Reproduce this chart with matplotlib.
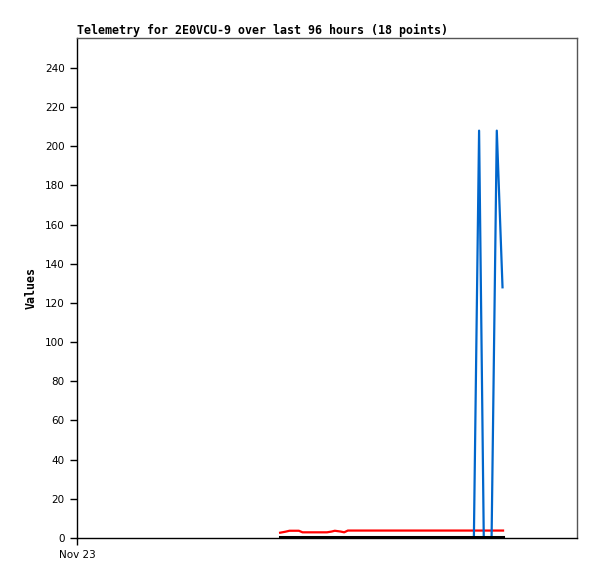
import matplotlib
matplotlib.use("Agg")
import matplotlib.pyplot as plt

# hours since Nov 23 00:00
red_hours = [39.0, 40.0, 40.8, 42.6, 43.3, 48.0, 48.9, 49.5, 50.6, 51.3, 52.0, 55.0, 60.0, 65.0, 70.0, 75.0, 79.0, 81.8]
red_vals = [2.7, 3.2, 3.7, 3.7, 2.9, 2.9, 3.3, 3.7, 3.3, 2.9, 3.8, 3.8, 3.8, 3.8, 3.8, 3.8, 3.8, 3.8]

blue_hours = [39.0, 76.2, 77.2, 78.1, 79.6, 80.6, 81.7]
blue_vals = [0, 0, 208, 0, 0, 208, 128]

black_hours = [39.0, 81.8]
black_vals = [0.4, 0.4]

yticks = list(range(0, 241, 20))
xtick_pos = [0]
xtick_labels = ["Nov 23"]

fig = plt.figure(figsize=(5.97, 5.79), dpi=100)
ax = fig.add_axes([77 / 597, 41 / 579, 500 / 597, 500 / 579])

ax.plot(red_hours, red_vals, color="#ff0000", lw=1.6)
ax.plot(blue_hours, blue_vals, color="#0066cc", lw=1.6)
ax.plot(black_hours, black_vals, color="black", lw=2.2)

ax.set_xlim(0, 96)
ax.set_ylim(0, 255.3)

ax.set_yticks(yticks)
ax.set_yticklabels([str(v) for v in yticks], fontsize=7.5, family="DejaVu Sans")
ax.set_xticks(xtick_pos)
ax.set_xticklabels(xtick_labels, fontsize=7.5, family="DejaVu Sans")
ax.tick_params(axis="both", direction="out", length=5, width=1, pad=4,
               top=False, right=False)

ax.spines["left"].set_color("black")
ax.spines["bottom"].set_color("black")
ax.spines["top"].set_color("#555555")
ax.spines["right"].set_color("#555555")
for s in ax.spines.values():
    s.set_linewidth(1)

ax.set_title("Telemetry for 2E0VCU-9 over last 96 hours (18 points)",
             loc="left", fontsize=8.4, family="DejaVu Sans Mono",
             fontweight="bold", pad=3)
ax.set_ylabel("Values", fontsize=8.4, family="DejaVu Sans Mono",
              fontweight="bold", labelpad=5)

fig.savefig("out.png", dpi=100)
